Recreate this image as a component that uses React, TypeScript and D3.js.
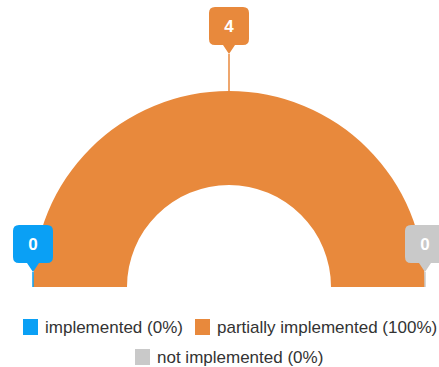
import React from "react";
import * as d3 from "d3";

const categories = ["implemented", "partially implemented", "not implemented"];
const values = [0, 4, 0];
const colors = ["#0aa0f5", "#e8893c", "#c9c9c9"];

const W = 439;
const H = 367;
const cx = 229;
const cy = 287;
const R = 196;
const r = 102;

export default function App() {
  const total = d3.sum(values);
  const pie = d3
    .pie<number>()
    .sort(null)
    .startAngle(-Math.PI / 2)
    .endAngle(Math.PI / 2)(values);
  const arc = d3.arc<d3.PieArcDatum<number>>().innerRadius(r).outerRadius(R);

  const bw = 40;
  const bh = 38;
  const font = "'Liberation Sans', Arial, sans-serif";

  const legendRow1 = [0, 1];
  const legendX = [23, 195];
  const legendRow2X = 135;

  return (
    <svg width={W} height={H} style={{ position: "absolute", left: 0, top: 0 }}>
      <g transform={`translate(${cx},${cy})`}>
        {pie.map((d, i) => (
          <path key={i} d={arc(d) || ""} fill={colors[i]} />
        ))}
      </g>
      {pie.map((d, i) => {
        const a = (d.startAngle + d.endAngle) / 2;
        const px = cx + R * Math.sin(a);
        const py = cy - R * Math.cos(a);
        const tipY = cy - 15 - (R + 22) * Math.abs(Math.cos(a));
        const boxBottom = tipY - 9;
        const boxTop = boxBottom - bh;
        const x0 = px - bw / 2;
        const rr = 6;
        const path = `M${x0 + rr},${boxTop} H${x0 + bw - rr} Q${x0 + bw},${boxTop} ${x0 + bw},${boxTop + rr} V${boxBottom - rr} Q${x0 + bw},${boxBottom} ${x0 + bw - rr},${boxBottom} H${px + 6} L${px},${tipY} L${px - 6},${boxBottom} H${x0 + rr} Q${x0},${boxBottom} ${x0},${boxBottom - rr} V${boxTop + rr} Q${x0},${boxTop} ${x0 + rr},${boxTop} Z`;
        return (
          <g key={i}>
            <line x1={px} y1={tipY} x2={px} y2={py} stroke={colors[i]} strokeWidth={1.5} />
            <path d={path} fill={colors[i]} />
            <text
              x={px}
              y={(boxTop + boxBottom) / 2 + 6}
              textAnchor="middle"
              fill="#fff"
              fontFamily={font}
              fontWeight="bold"
              fontSize={17}
            >
              {values[i]}
            </text>
          </g>
        );
      })}
      <g fontFamily={font} fontSize={17} fill="#333">
        {legendRow1.map((i, k) => (
          <g key={i}>
            <rect x={legendX[k]} y={319} width={15} height={16} fill={colors[i]} />
            <text x={legendX[k] + 22} y={333}>
              {`${categories[i]} (${Math.round((values[i] / total) * 100)}%)`}
            </text>
          </g>
        ))}
        <rect x={legendRow2X} y={349} width={15} height={16} fill={colors[2]} />
        <text x={legendRow2X + 22} y={363}>
          {`${categories[2]} (${Math.round((values[2] / total) * 100)}%)`}
        </text>
      </g>
    </svg>
  );
}
